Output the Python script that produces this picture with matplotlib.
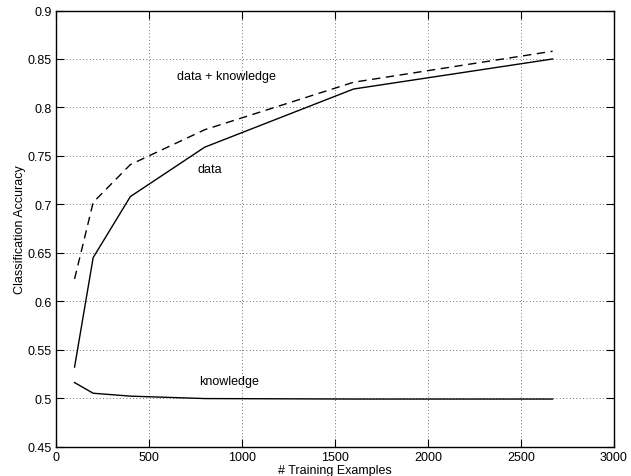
import matplotlib
matplotlib.use("Agg")
import matplotlib.pyplot as plt

plt.rcParams['font.family'] = ['Liberation Sans', 'DejaVu Sans']

train_sizes = [100, 200, 400, 800, 1600, 2670]
acc_data = [0.532, 0.645, 0.708, 0.759, 0.819, 0.850]
acc_data_knowledge = [0.623, 0.702, 0.741, 0.777, 0.826, 0.858]
acc_knowledge = [0.516, 0.505, 0.502, 0.4995, 0.499, 0.499]

fig = plt.figure(figsize=(6.31, 4.77), dpi=100)
ax = fig.add_axes([0.0887, 0.0618, 0.8843, 0.914])

ax.plot(train_sizes, acc_data, color='black', lw=1.0)
ax.plot(train_sizes, acc_data_knowledge, color='black', lw=1.0, ls=(0, (6, 4)))
ax.plot(train_sizes, acc_knowledge, color='black', lw=1.0)

ax.set_xlim(0, 3000)
ax.set_ylim(0.45, 0.9)
ax.set_xticks([0, 500, 1000, 1500, 2000, 2500, 3000])
ax.set_yticks([0.45, 0.5, 0.55, 0.6, 0.65, 0.7, 0.75, 0.8, 0.85, 0.9])
ax.set_yticklabels(['0.45', '0.5', '0.55', '0.6', '0.65', '0.7', '0.75', '0.8', '0.85', '0.9'])
ax.grid(True, ls=(0, (1, 3)), color='#444444', lw=0.6)
ax.tick_params(direction='in', top=True, right=True, labelsize=9, length=6, pad=3)
for s in ax.spines.values():
    s.set_linewidth(1.0)

ax.set_xlabel('# Training Examples', fontsize=9, labelpad=1)
ax.set_ylabel('Classification Accuracy', fontsize=9, labelpad=1)

ax.text(914, 0.832, 'data + knowledge', fontsize=9, ha='center', va='center')
ax.text(828, 0.7366, 'data', fontsize=9, ha='center', va='center')
ax.text(930, 0.5176, 'knowledge', fontsize=9, ha='center', va='center')

fig.savefig('out.png', dpi=100)
